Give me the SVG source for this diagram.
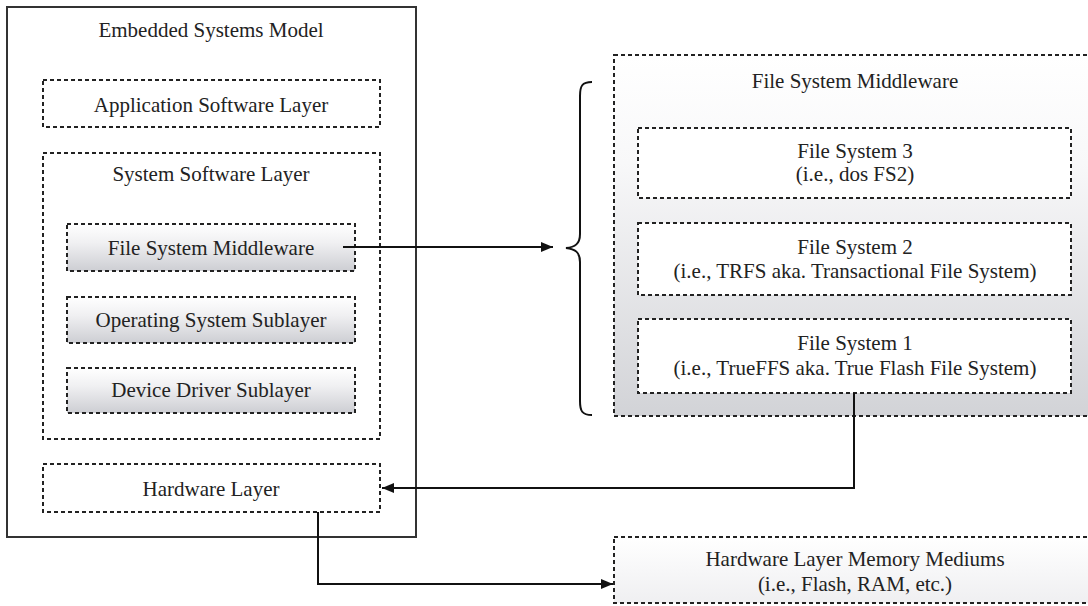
<svg xmlns="http://www.w3.org/2000/svg" width="1088" height="606" viewBox="0 0 1088 606">
<style>
text{font-family:"Liberation Serif","Times New Roman",serif;font-size:21px;fill:#222;text-anchor:middle}
.dash{stroke:#222;stroke-width:2;stroke-dasharray:4 3}
.white{fill:#fff}
.none{fill:none}
.sub{fill:url(#gSub)}
.big{fill:url(#gBig)}
.mem{fill:url(#gMem)}
.solid{fill:#fff;stroke:#333;stroke-width:2}
.conn{fill:none;stroke:#111;stroke-width:2}
</style>
<defs>
<linearGradient id="gSub" x1="0" y1="0" x2="0" y2="1">
<stop offset="0" stop-color="#ffffff"/>
<stop offset="0.4" stop-color="#f0f0f2"/>
<stop offset="1" stop-color="#cdced3"/>
</linearGradient>
<linearGradient id="gBig" x1="0" y1="0" x2="0" y2="1">
<stop offset="0" stop-color="#ffffff"/>
<stop offset="0.3" stop-color="#f8f8f9"/>
<stop offset="1" stop-color="#d2d3d7"/>
</linearGradient>
<linearGradient id="gMem" x1="0" y1="0" x2="0" y2="1">
<stop offset="0" stop-color="#ffffff"/>
<stop offset="1" stop-color="#efeff1"/>
</linearGradient>
<marker id="arr" viewBox="0 0 12 10" refX="12" refY="5" markerWidth="12" markerHeight="10" markerUnits="userSpaceOnUse" orient="auto">
<path d="M0,0 L12,5 L0,10 Z" fill="#111"/>
</marker>
</defs>
<rect width="1088" height="606" fill="#fff"/>

<g id="embedded-systems-model">
<rect class="solid" x="7" y="7" width="409" height="530"/>
<text x="211" y="37">Embedded Systems Model</text>
</g>
<g id="application-software-layer">
<rect class="dash white" x="43" y="80" width="337" height="47"/>
<text x="211" y="112">Application Software Layer</text>
</g>
<g id="system-software-layer">
<rect class="dash none" x="43" y="153" width="337" height="286"/>
<text x="211" y="181">System Software Layer</text>
</g>
<g id="file-system-middleware-left">
<rect class="dash sub" x="67" y="224" width="288" height="47"/>
<text x="211" y="255">File System Middleware</text>
</g>
<g id="operating-system-sublayer">
<rect class="dash sub" x="67" y="297" width="288" height="46"/>
<text x="211" y="327">Operating System Sublayer</text>
</g>
<g id="device-driver-sublayer">
<rect class="dash sub" x="67" y="368" width="288" height="45"/>
<text x="211" y="397">Device Driver Sublayer</text>
</g>
<g id="hardware-layer">
<rect class="dash white" x="43" y="464" width="337" height="48"/>
<text x="211" y="496">Hardware Layer</text>
</g>

<g id="file-system-middleware">
<rect class="dash big" x="614" y="55" width="490" height="361"/>
<text x="855" y="88">File System Middleware</text>
</g>
<g id="file-system-3">
<rect class="dash white" x="638" y="128" width="433" height="70"/>
<text x="855" y="158">File System 3</text>
<text x="855" y="181">(i.e., dos FS2)</text>
</g>
<g id="file-system-2">
<rect class="dash white" x="638" y="223" width="433" height="72"/>
<text x="855" y="254">File System 2</text>
<text x="855" y="278">(i.e., TRFS aka. Transactional File System)</text>
</g>
<g id="file-system-1">
<rect class="dash white" x="638" y="319" width="433" height="74"/>
<text x="855" y="350">File System 1</text>
<text x="855" y="375">(i.e., TrueFFS aka. True Flash File System)</text>
</g>
<g id="hardware-memory-mediums">
<rect class="dash mem" x="614" y="537" width="490" height="66"/>
<text x="855" y="566">Hardware Layer Memory Mediums</text>
<text x="855" y="591">(i.e., Flash, RAM, etc.)</text>
</g>

<g id="connectors">
<path class="conn" d="M343,247 H553" marker-end="url(#arr)"/>
<path class="conn" d="M592,82 C582,82 580,86 580,96 V234 C580,244 575,247 566,248 C575,249 580,252 580,262 V401 C580,411 582,415 592,415" stroke-width="1.8"/>
<path class="conn" d="M854,393 V488 H382" marker-end="url(#arr)"/>
<path class="conn" d="M318,512 V584 H613" marker-end="url(#arr)"/>
</g>
</svg>
